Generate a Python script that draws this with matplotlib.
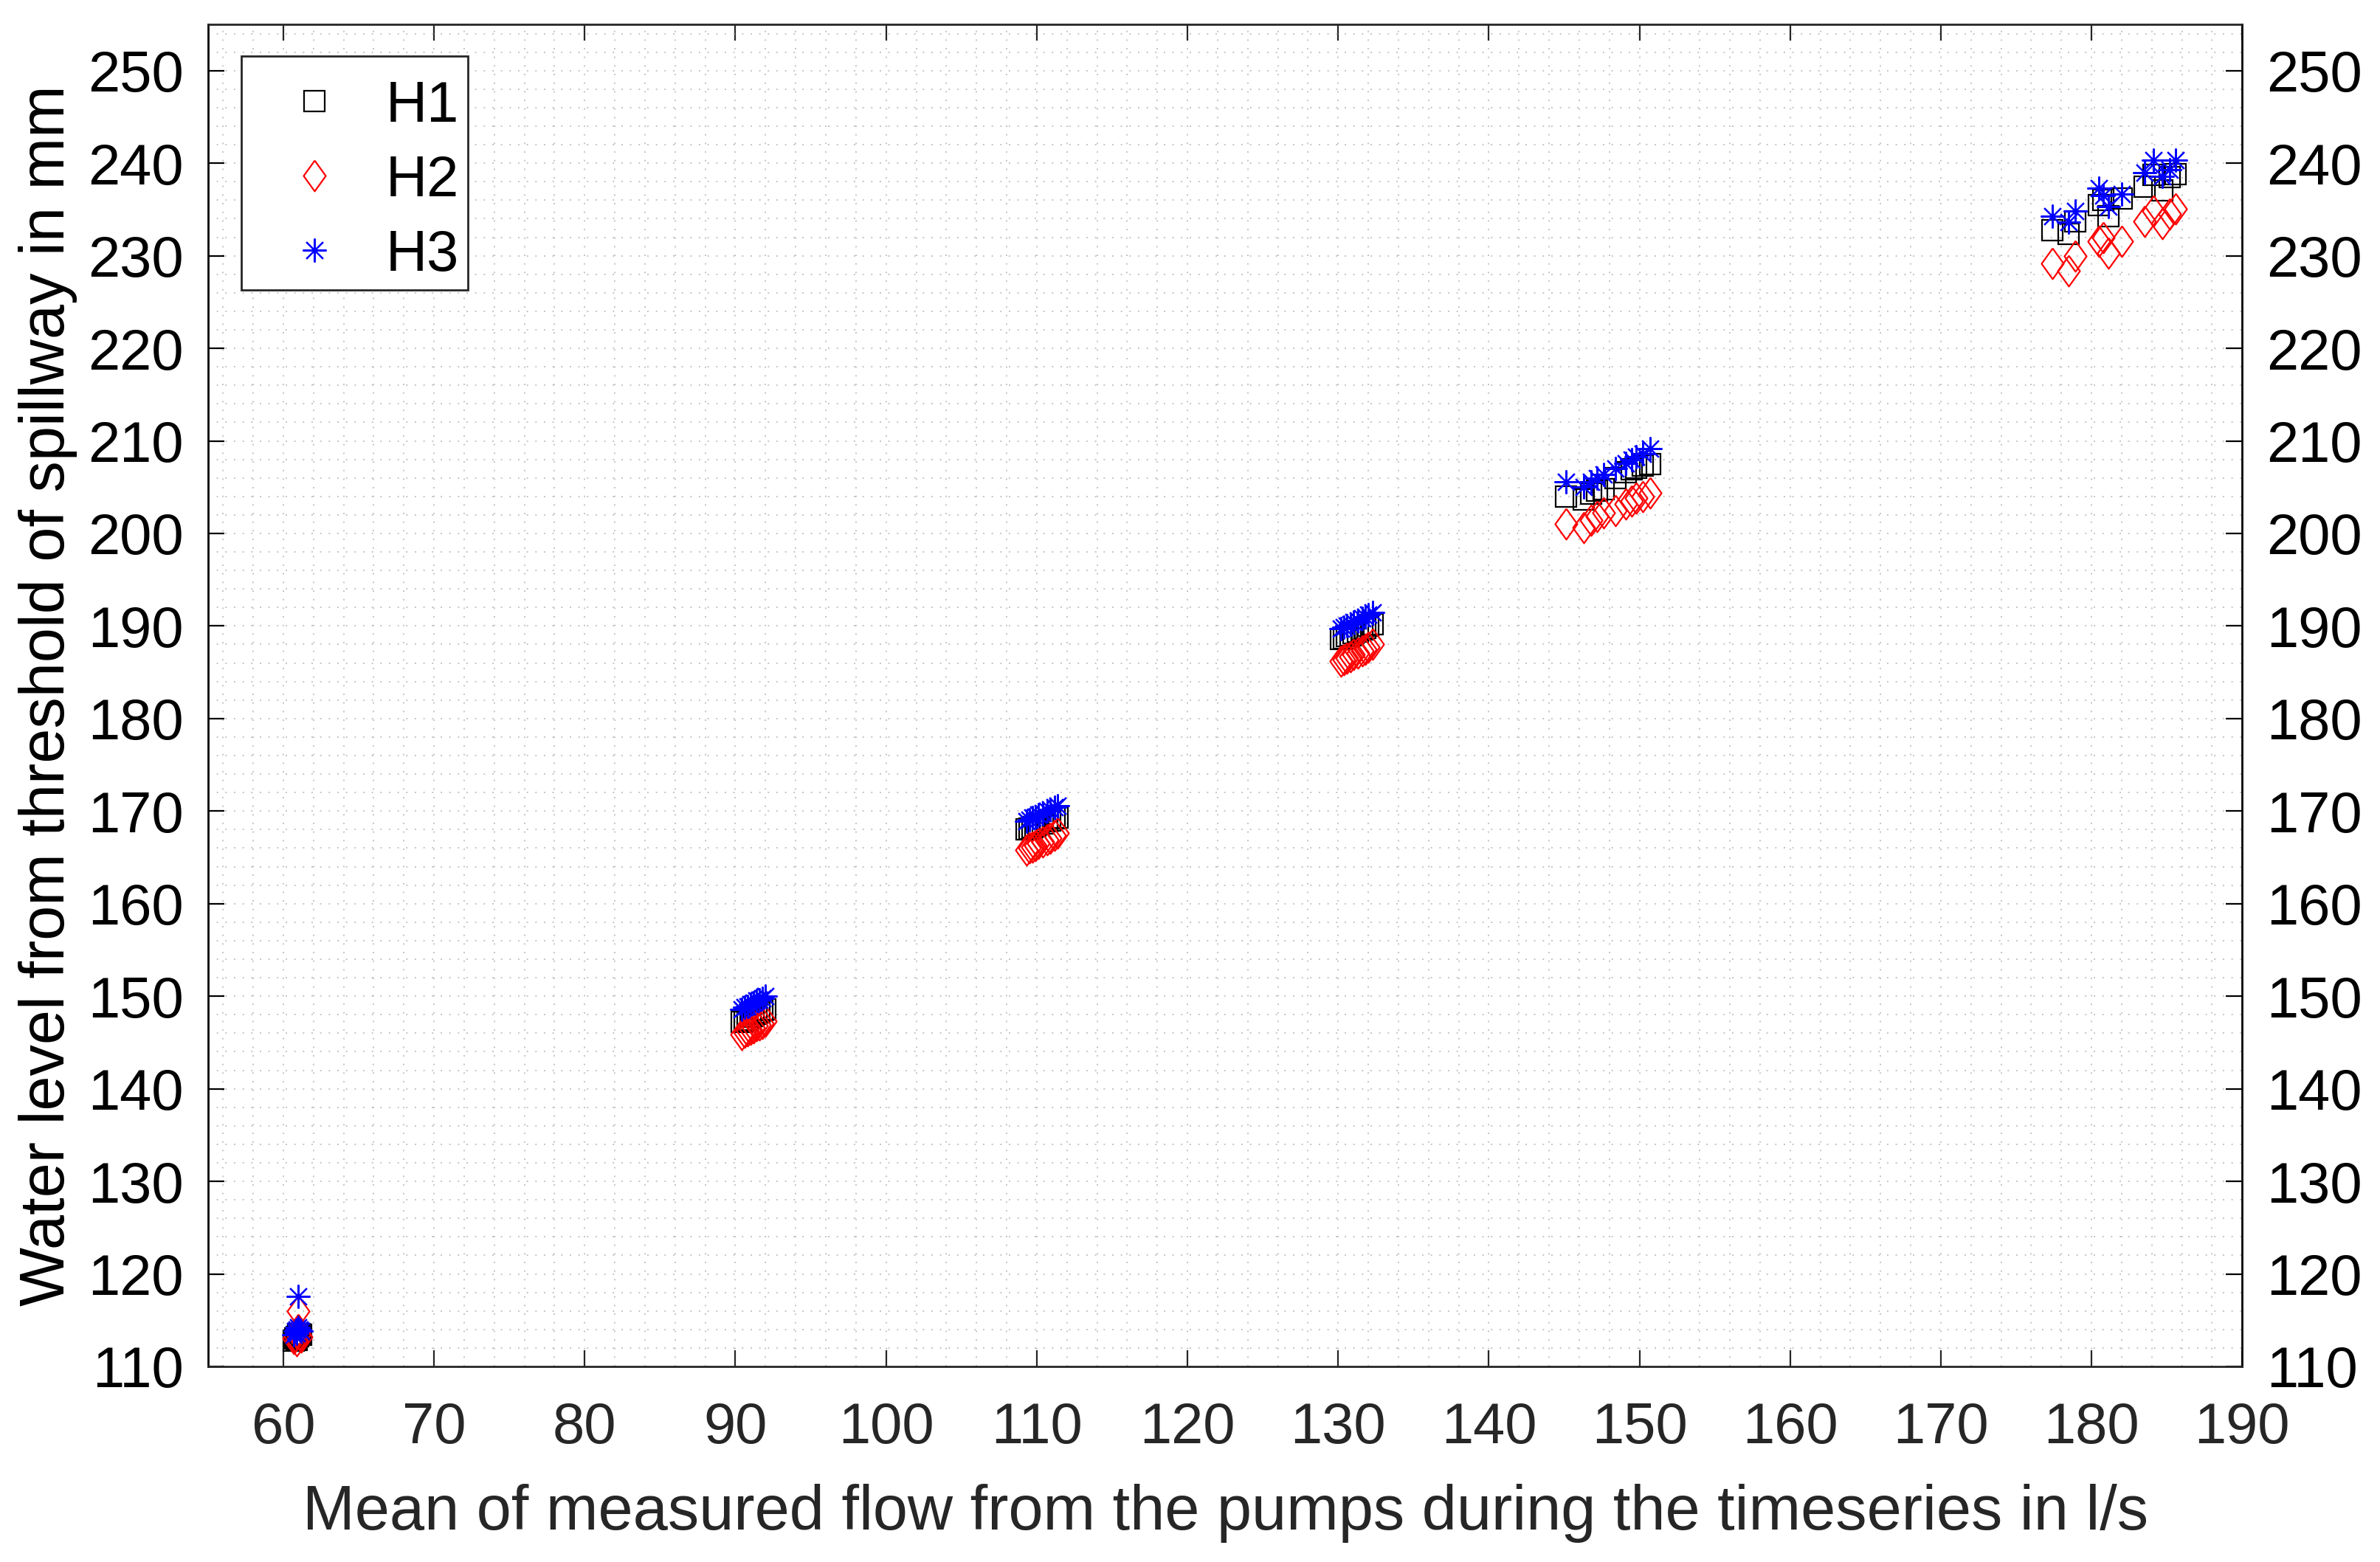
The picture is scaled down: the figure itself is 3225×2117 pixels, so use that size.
import matplotlib
matplotlib.use('Agg')
import matplotlib.pyplot as plt
from matplotlib.ticker import MultipleLocator
from matplotlib.patches import Rectangle
import numpy as np

plt.rcParams['font.family'] = ['Liberation Sans', 'DejaVu Sans']

# mean flow of each timeseries in l/s
flow = [60.7, 60.8, 60.9, 60.9, 61.0, 61.0, 61.1, 61.2,
        90.4, 90.6, 90.8, 91.0, 91.2, 91.4, 91.6, 91.8, 92.0,
        109.3, 109.5, 109.7, 109.9, 110.1, 110.4, 110.7, 110.9, 111.2, 111.4,
        130.2, 130.4, 130.6, 130.8, 131.0, 131.3, 131.6, 131.8, 132.0, 132.3,
        145.1, 146.3, 146.8, 147.2, 147.6, 148.4, 149.1, 149.5, 149.8, 150.2, 150.7,
        177.4, 178.5, 178.9, 180.5, 180.8, 181.1, 182.0, 183.5, 184.1, 184.7, 185.2, 185.6]

# water level above spillway threshold in mm
h1 = [112.8, 113.0, 113.2, 112.9, 113.3, 113.5, 113.5, 113.4,
      147.2, 147.4, 147.5, 147.8, 147.9, 148.1, 148.3, 148.5, 148.6,
      168.0, 168.1, 168.3, 168.4, 168.6, 168.7, 168.9, 169.0, 169.2, 169.3,
      188.6, 188.7, 188.9, 189.0, 189.2, 189.4, 189.6, 189.8, 190.0, 190.2,
      204.0, 203.7, 204.3, 204.6, 204.8, 206.0, 206.6, 206.9, 207.1, 207.3, 207.5,
      232.8, 232.4, 233.7, 235.5, 236.0, 234.3, 236.2, 237.5, 238.7, 237.1, 238.5, 238.8]
h2 = [113.0, 113.3, 112.8, 113.6, 114.0, 116.0, 113.5, 113.2,
      145.9, 146.1, 146.3, 146.4, 146.6, 146.8, 146.9, 147.1, 147.3,
      165.8, 166.0, 166.1, 166.3, 166.5, 166.7, 166.9, 167.1, 167.4, 167.6,
      186.2, 186.4, 186.5, 186.7, 186.9, 187.1, 187.3, 187.5, 187.7, 188.0,
      201.0, 200.6, 201.4, 201.8, 202.2, 202.5, 203.2, 203.5, 203.8, 204.0, 204.4,
      229.2, 228.4, 230.0, 231.6, 232.0, 230.3, 231.6, 233.7, 234.8, 233.5, 234.5, 235.1]
h3 = [113.4, 113.8, 114.0, 113.6, 114.2, 117.6, 114.0, 113.8,
      148.6, 148.8, 148.9, 149.1, 149.3, 149.5, 149.6, 149.8, 150.0,
      168.9, 169.1, 169.3, 169.4, 169.6, 169.8, 170.0, 170.2, 170.4, 170.6,
      189.7, 189.9, 190.0, 190.2, 190.4, 190.6, 190.8, 191.0, 191.2, 191.5,
      205.6, 205.0, 205.6, 206.0, 206.4, 207.0, 207.6, 208.0, 208.3, 208.6, 209.2,
      234.3, 233.6, 234.8, 237.3, 236.5, 235.3, 236.7, 239.0, 240.3, 238.6, 239.3, 240.3]

series_names = ['H1', 'H2', 'H3']

gray = '#262626'
diamond = [(0, 1), (0.72, 0), (0, -1), (-0.72, 0), (0, 1)]

fig = plt.figure(figsize=(16.125, 10.585), dpi=200)
ax = fig.add_axes([0.0874, 0.1252, 0.8547, 0.8592])

ax.plot(flow, h1, linestyle='none', marker='s', ms=10, mfc='none', mec='black', mew=0.8, label=series_names[0])
ax.plot(flow, h2, linestyle='none', marker=diamond, ms=15, mfc='none', mec='#ff0000', mew=0.8, label=series_names[1])
ax.plot(flow, h3, linestyle='none', marker=(8, 2, 0), ms=11.5, mfc='none', mec='#0000ff', mew=0.8, label=series_names[2])

ax.set_xlim(55, 190)
ax.set_ylim(110, 255)
ax.set_xticks(np.arange(60, 191, 10))
ax.set_yticks(np.arange(110, 251, 10))
ax.xaxis.set_minor_locator(MultipleLocator(2))
ax.yaxis.set_minor_locator(MultipleLocator(2))

# alles gepunktet, wie bei grid minor
ax.grid(which='both', color='#c4c4c4', linestyle=(0, (1, 5)), linewidth=0.7)
ax.set_axisbelow(True)

ax.tick_params(which='minor', length=0)
ax.tick_params(axis='x', which='major', direction='in', length=8, width=0.8,
               top=True, labelsize=28, colors=gray, pad=17)
ax.tick_params(axis='y', which='major', direction='in', length=8, width=0.8,
               right=True, labelright=True, labelsize=28, colors='black', pad=12)

for side in ['left', 'right']:
    ax.spines[side].set_color('black')
    ax.spines[side].set_linewidth(1.0)
for side in ['top', 'bottom']:
    ax.spines[side].set_color(gray)
    ax.spines[side].set_linewidth(1.0)

ax.set_xlabel('Mean of measured flow from the pumps during the timeseries in l/s',
              fontsize=30.5, color=gray, labelpad=14)
ax.set_ylabel('Water level from threshold of spillway in mm', fontsize=30.5, color='black', labelpad=5)

# Legendenrahmen separat, damit die Eintraege etwas tiefer sitzen
box = Rectangle((327 / 3225, 1 - 393 / 2117), 307 / 3225, 317 / 2117, transform=fig.transFigure,
                facecolor='white', edgecolor=gray, linewidth=1.0, zorder=4, clip_on=False)
ax.add_patch(box)
leg = ax.legend(loc='upper left', bbox_to_anchor=(0.1014, 0.9584), bbox_transform=fig.transFigure,
                borderaxespad=0, fontsize=28, frameon=False,
                handlelength=2.05, handletextpad=0.22, labelspacing=0.36, borderpad=0.25)
leg.set_zorder(5)

fig.savefig('out.png', dpi=200)
